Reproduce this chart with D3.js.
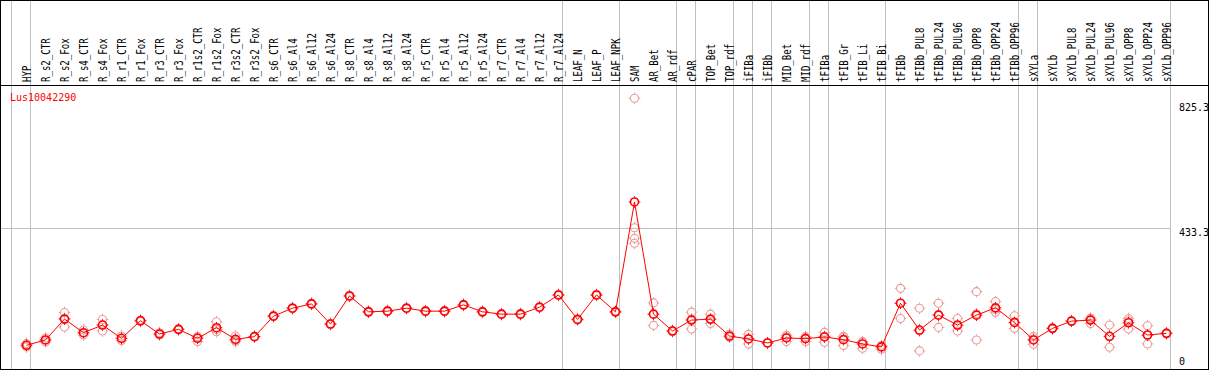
<!DOCTYPE html>
<html>
<head>
<meta charset="utf-8">
<script src="https://cdn.jsdelivr.net/npm/d3@7"></script>
<style>
  body { margin: 0; background: #fff; }
  svg { display: block; }
</style>
</head>
<body>
<div id="chart"></div>
<script>
// Data
var geneName = "Lus10042290";

var categories = ["HYP", "R_s2_CTR", "R_s2_Fox", "R_s4_CTR", "R_s4_Fox", "R_r1_CTR", "R_r1_Fox",
  "R_r3_CTR", "R_r3_Fox", "R_r1s2_CTR", "R_r1s2_Fox", "R_r3s2_CTR", "R_r3s2_Fox",
  "R_s6_CTR", "R_s6_Al4", "R_s6_Al12", "R_s6_Al24", "R_s8_CTR", "R_s8_Al4", "R_s8_Al12", "R_s8_Al24",
  "R_r5_CTR", "R_r5_Al4", "R_r5_Al12", "R_r5_Al24", "R_r7_CTR", "R_r7_Al4", "R_r7_Al12", "R_r7_Al24",
  "LEAF_N", "LEAF_P", "LEAF_NPK", "SAM", "AR_Bet", "AR_rdf", "cPAR", "TOP_Bet", "TOP_rdf",
  "iFIBa", "iFIBb", "MID_Bet", "MID_rdf", "tFIBa", "tFIB_Gr", "tFIB_Li", "tFIB_Bi",
  "tFIBb", "tFIBb_PUL8", "tFIBb_PUL24", "tFIBb_PUL96", "tFIBb_OPP8", "tFIBb_OPP24", "tFIBb_OPP96",
  "sXYLa", "sXYLb", "sXYLb_PUL8", "sXYLb_PUL24", "sXYLb_PUL96", "sXYLb_OPP8", "sXYLb_OPP24", "sXYLb_OPP96"];

// mean expression per sample
var means = [79, 95, 158, 117, 140, 100, 153, 113, 127, 100, 132, 97, 105,
  167, 191, 204, 143, 228, 180, 182, 191, 182, 182, 201, 180, 173, 173, 194, 231,
  157, 231, 180, 512, 173, 122, 155, 158, 107, 98, 86, 101, 99, 104, 96, 83, 74,
  206, 125, 170, 140, 170, 192, 148, 95, 130, 152, 155, 106, 147, 110, 115];

// individual replicates per sample
var replicates = [
  [84, 74, 79], [89, 101, 95], [178, 134, 160], [125, 110, 116], [157, 122, 141],
  [107, 93, 100], [155, 151], [117, 110, 112], [129, 125], [105, 90, 104],
  [150, 120, 127], [107, 90, 94], [106, 104],
  [169, 165], [193, 189], [206, 202], [145, 141], [230, 226], [182, 178], [184, 180], [193, 189],
  [184, 180], [184, 180], [203, 199], [182, 178], [175, 171], [175, 171], [196, 192], [233, 229],
  [159, 155], [233, 229], [182, 178],
  [825.3, 434, 402, 387], [207, 139, 173], [124, 120], [179, 128, 158], [173, 145, 156],
  [113, 103, 105], [112, 83, 99], [87, 85], [109, 90, 104], [105, 90, 101],
  [118, 88, 106], [103, 78, 106], [90, 70, 89], [79, 67, 75],
  [251, 160, 206], [191, 62, 122], [206, 133, 172], [160, 122, 138], [241, 95, 174],
  [211, 179, 187], [168, 130, 147],
  [105, 82, 98], [132, 128], [153, 151], [159, 145, 161], [140, 73, 105],
  [160, 128, 153], [138, 83, 109], [117, 113]];

// last sample of each group (a separator is drawn after it)
var groupEnds = ["HYP", "R_r7_Al24", "LEAF_NPK", "AR_rdf", "cPAR", "TOP_rdf", "iFIBa", "iFIBb",
  "MID_rdf", "tFIBa", "tFIB_Bi", "tFIBb_OPP96", "sXYLa", "sXYLb_OPP96"];

var yMax = 825.3;
var yMid = 433.3;
var yTickLabels = ["825.3", "433.3", "0"];

// Set up chart
var svgWidth = 1209;
var svgHeight = 370;
var headerH = 85;
var plotBottom = 371.4;

var svg = d3.select("#chart")
  .append("svg")
  .attr("width", svgWidth)
  .attr("height", svgHeight);

var x = d3.scalePoint()
  .domain(categories)
  .range([26.5, 26.5 + (categories.length - 1) * 19]);

var y = d3.scaleLinear()
  .domain([0, yMax * 1.05])
  .range([plotBottom, headerH - 0.4]);

var mono = "'DejaVu Sans Mono', 'Liberation Mono', monospace";
var lastX = x(categories[categories.length - 1]) + 4;

// vertical separators, full height
var seps = [x(categories[0]) - 15].concat(groupEnds.map(function(c) { return x(c) + 4; }));
svg.append("g").selectAll("line")
  .data(seps)
  .enter()
  .append("line")
  .attr("x1", function(d) { return d; })
  .attr("x2", function(d) { return d; })
  .attr("y1", 0)
  .attr("y2", svgHeight)
  .attr("stroke", "#c0c0c0")
  .attr("stroke-width", 1);

// horizontal gridline at half height
svg.append("line")
  .attr("x1", 1)
  .attr("x2", lastX)
  .attr("y1", Math.round(y(yMid)) + 0.5)
  .attr("y2", Math.round(y(yMid)) + 0.5)
  .attr("stroke", "#c0c0c0");

// header line and outer frame
svg.append("line")
  .attr("x1", 0).attr("x2", svgWidth)
  .attr("y1", headerH + 0.5).attr("y2", headerH + 0.5)
  .attr("stroke", "#000");
svg.append("rect")
  .attr("x", 0.5).attr("y", 0.5)
  .attr("width", 1208).attr("height", 369)
  .attr("fill", "none")
  .attr("stroke", "#000");

// rotated sample labels
svg.append("g").selectAll("text")
  .data(categories)
  .enter()
  .append("text")
  .attr("transform", function(d) { return "translate(" + (x(d) + 4) + "," + 82 + ") rotate(-90)"; })
  .attr("font-family", mono)
  .attr("font-size", 12)
  .attr("textLength", function(d) { return d.length * 5.45; })
  .attr("lengthAdjust", "spacingAndGlyphs")
  .attr("fill", "#000")
  .text(function(d) { return d; });

// gene name
svg.append("text")
  .attr("x", 10)
  .attr("y", 101)
  .attr("font-family", mono)
  .attr("font-size", 10)
  .attr("fill", "#ff0000")
  .text(geneName);

// value labels on the right
var tickVals = [yMax, yMid, 0];
var tickOffsets = [12.5, 8, -6];
svg.append("g").selectAll("text")
  .data(yTickLabels)
  .enter()
  .append("text")
  .attr("x", 1179)
  .attr("y", function(d, i) { return y(tickVals[i]) + tickOffsets[i]; })
  .attr("font-family", mono)
  .attr("font-size", 10)
  .attr("fill", "#000")
  .text(function(d) { return d; });

// marker shape: circle with four little stubs
function marker(g, cx, cy, color, sw) {
  g.append("circle")
    .attr("cx", cx).attr("cy", cy).attr("r", 4)
    .attr("fill", "none")
    .attr("stroke", color)
    .attr("stroke-width", sw);
  g.append("path")
    .attr("d", "M" + cx + "," + (cy - 5.8) + "V" + (cy - 4.5) +
               "M" + cx + "," + (cy + 4.5) + "V" + (cy + 5.8) +
               "M" + (cx - 5.8) + "," + cy + "H" + (cx - 4.5) +
               "M" + (cx + 4.5) + "," + cy + "H" + (cx + 5.8))
    .attr("stroke", color)
    .attr("stroke-width", 1);
}

// replicates (light)
var repG = svg.append("g");
categories.forEach(function(c, i) {
  replicates[i].forEach(function(v) {
    marker(repG, x(c), y(v), "#e99a9a", 1.1);
  });
});

// mean line
var line = d3.line()
  .x(function(d, i) { return x(categories[i]); })
  .y(function(d) { return y(d); });

svg.append("path")
  .datum(means)
  .attr("d", line)
  .attr("fill", "none")
  .attr("stroke", "#ff0000")
  .attr("stroke-width", 1);

var meanG = svg.append("g");
categories.forEach(function(c, i) {
  marker(meanG, x(c), y(means[i]), "#ff0000", 1.6);
});
</script>
</body>
</html>
